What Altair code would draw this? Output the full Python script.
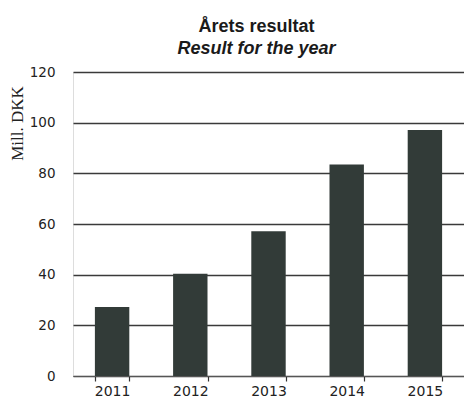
import altair as alt
import pandas as pd

years = ["2011", "2012", "2013", "2014", "2015"]
values = [27.2, 40.4, 57.1, 83.5, 97.1]
y_ticks = [0, 20, 40, 60, 80, 100, 120]

df = pd.DataFrame({"year": years, "value": values})

chart = alt.Chart(df).mark_bar(color="#323b38").encode(
    x=alt.X(
        "year:N",
        sort=years,
        title=None,
        scale=alt.Scale(paddingInner=0.56, paddingOuter=0.28),
        axis=alt.Axis(
            labelAngle=0,
            labelFont="DejaVu Sans",
            labelFontSize=14,
            labelColor="#222222",
            labelPadding=3,
            domain=True,
            domainColor="#555555",
            domainWidth=1,
            ticks=True,
            tickBand="extent",
            tickColor="#333333",
            tickSize=5,
            tickWidth=1.2,
            grid=False,
        ),
    ),
    y=alt.Y(
        "value:Q",
        title="Mill. DKK",
        scale=alt.Scale(domain=[0, 120], nice=False),
        axis=alt.Axis(
            values=y_ticks,
            labelFont="DejaVu Sans",
            labelFontSize=13.5,
            labelColor="#222222",
            labelPadding=18,
            domain=False,
            ticks=False,
            grid=True,
            gridColor="#3a3a3a",
            gridWidth=1.5,
            titleFont="Liberation Serif",
            titleFontSize=17,
            titleFontWeight="normal",
            titleColor="#222222",
            titleAngle=-90,
            titleX=-56,
            titleY=51,
            titleAlign="center",
            titleBaseline="middle",
        ),
    ),
).properties(
    width=391,
    height=304,
    padding={"left": 65, "top": 64, "right": 0, "bottom": 24},
    autosize=alt.AutoSizeParams(type="none"),
    title=alt.TitleParams(
        text="Årets resultat",
        subtitle="Result for the year",
        font="Liberation Sans",
        fontSize=18,
        fontWeight="bold",
        color="#1a1a1a",
        subtitleFont="Liberation Sans",
        subtitleFontSize=18,
        subtitleFontWeight="bold",
        subtitleFontStyle="italic",
        subtitleColor="#1a1a1a",
        subtitlePadding=4,
        anchor="middle",
        dx=-12,
        offset=7,
    ),
).configure_view(stroke=None).configure(background="white")

chart.save("out.html", embed_options={"renderer": "svg", "actions": False})
